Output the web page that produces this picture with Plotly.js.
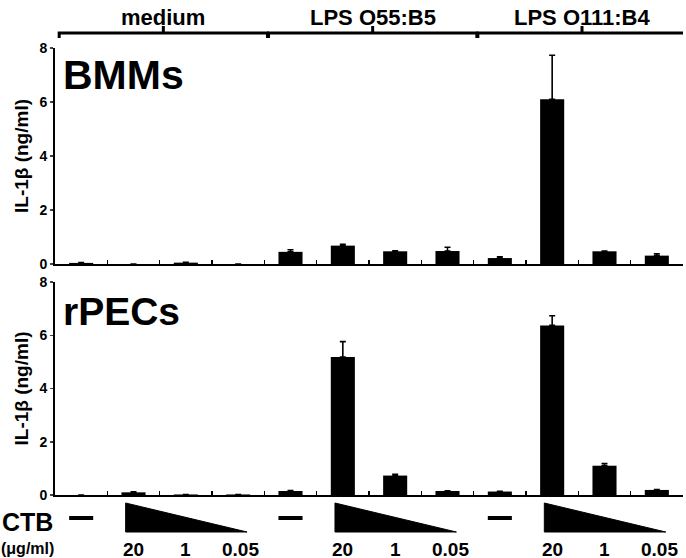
<!DOCTYPE html>
<html>
<head>
<meta charset="utf-8">
<script src="https://cdn.plot.ly/plotly-3.0.1.min.js"></script>
<style>
  body { margin: 0; background: #fff; }
  #graph { width: 686px; height: 558px; }
</style>
</head>
<body>
<div id="graph"></div>
<script>
// 12 wells: 3 stimulation groups x (no CTB, CTB 20, 1, 0.05 ug/ml)
var groups = ['medium', 'LPS O55:B5', 'LPS O111:B4']
var doseLabels = ['20', '1', '0.05']
var wells = [0, 1, 2, 3, 4, 5, 6, 7, 8, 9, 10, 11]

var bmmsMean = [0.04, 0, 0.05, 0, 0.45, 0.68, 0.47, 0.48, 0.22, 6.1, 0.47, 0.31]
var bmmsErr = [0.01, 0, 0.01, 0, 0.08, 0.05, 0.02, 0.14, 0.05, 1.63, 0.01, 0.07]
var pecsMean = [0, 0.1, 0.02, 0.02, 0.15, 5.18, 0.73, 0.15, 0.13, 6.37, 1.1, 0.19]
var pecsErr = [0, 0.02, 0, 0, 0.02, 0.58, 0.05, 0.01, 0.01, 0.36, 0.08, 0.01]

var FONT = 'Liberation Sans, Arial, sans-serif'
var zeros = wells.map(function () { return 0 })

function barTrace (y, err, xa, ya) {
  return {
    type: 'bar',
    x: wells,
    y: y,
    xaxis: xa,
    yaxis: ya,
    width: 0.46,
    marker: { color: '#000', line: { width: 0 } },
    error_y: {
      type: 'data',
      symmetric: false,
      array: err,
      arrayminus: zeros,
      color: '#000',
      thickness: 1.6,
      width: 3
    },
    showlegend: false,
    hoverinfo: 'y'
  }
}

var data = [
  barTrace(bmmsMean, bmmsErr, 'x', 'y'),
  barTrace(pecsMean, pecsErr, 'x2', 'y2')
]

var xbase = {
  range: [-0.5, 11.5],
  showgrid: false,
  zeroline: false,
  showline: true,
  linecolor: '#000',
  linewidth: 2,
  tickmode: 'array',
  tickvals: wells.map(function (i) { return i + 0.5 }),
  ticks: 'inside',
  ticklen: 4,
  tickwidth: 1.5,
  tickcolor: '#000',
  showticklabels: false
}

function ybase (domain, anchor) {
  return {
    domain: domain,
    anchor: anchor,
    range: [0, 8],
    showgrid: false,
    zeroline: false,
    showline: true,
    linecolor: '#000',
    linewidth: 2,
    tickvals: [0, 2, 4, 6, 8],
    ticks: 'outside',
    ticklen: 3,
    tickwidth: 1.5,
    tickfont: { family: FONT, size: 14, weight: 'bold', color: '#000' },
    title: {
      text: 'IL-1β (ng/ml)',
      font: { family: FONT, size: 19, weight: 'bold', color: '#000' },
      standoff: 6
    },
    automargin: false
  }
}

var shapes = []
var annotations = []

// group brackets on top
groups.forEach(function (g, k) {
  var x0 = k * 4 - 0.42
  var x1 = k * 4 + 3.56
  var xm = (x0 + x1) / 2
  shapes.push({
    type: 'path',
    xref: 'x',
    yref: 'paper',
    path: 'M' + x0 + ',1.0224 L' + x0 + ',1.0336 L' + x1 + ',1.0336 L' + x1 + ',1.0224 M' + xm + ',1.0336 L' + xm + ',1.0492',
    line: { color: '#000', width: 3 }
  })
  annotations.push({
    xref: 'x',
    yref: 'paper',
    x: xm,
    y: 1.069,
    yanchor: 'middle',
    text: g,
    showarrow: false,
    font: { family: FONT, size: 22, weight: 'bold', color: '#000' }
  })
  // no-CTB dash
  shapes.push({
    type: 'line',
    xref: 'x2',
    yref: 'paper',
    x0: k * 4 - 0.23,
    x1: k * 4 + 0.23,
    y0: -0.0515,
    y1: -0.0515,
    line: { color: '#000', width: 4 }
  })
  // CTB dose triangle
  var t0 = k * 4 + 0.85
  var t1 = k * 4 + 3.17
  shapes.push({
    type: 'path',
    xref: 'x2',
    yref: 'paper',
    path: 'M' + t0 + ',-0.0179 L' + t0 + ',-0.0828 L' + t1 + ',-0.0828 Z',
    fillcolor: '#000',
    line: { color: '#000', width: 1 }
  })
  doseLabels.forEach(function (d, j) {
    annotations.push({
      xref: 'x2',
      yref: 'paper',
      x: k * 4 + 1 + j + (j === 2 ? 0.05 : 0),
      y: -0.1219,
      yanchor: 'middle',
      height: 16,
      text: d,
      showarrow: false,
      font: { family: FONT, size: 19, weight: 'bold', color: '#000' }
    })
  })
})

annotations.push(
  {
    xref: 'paper', yref: 'paper', x: 0.01, y: 0.94, xanchor: 'left', yanchor: 'middle',
    text: 'BMMs', showarrow: false,
    font: { family: FONT, size: 41, weight: 'bold', color: '#000' }
  },
  {
    xref: 'paper', yref: 'paper', x: 0.01, y: 0.41, xanchor: 'left', yanchor: 'middle',
    text: 'rPECs', showarrow: false,
    font: { family: FONT, size: 39, weight: 'bold', color: '#000' }
  },
  {
    xref: 'paper', yref: 'paper', x: -0.044, y: -0.0604, xanchor: 'center', yanchor: 'middle',
    text: 'CTB', showarrow: false,
    font: { family: FONT, size: 25, weight: 'bold', color: '#000' }
  },
  {
    xref: 'paper', yref: 'paper', x: -0.044, y: -0.1208, xanchor: 'center', yanchor: 'middle',
    height: 17,
    text: '(μg/ml)', showarrow: false,
    font: { family: FONT, size: 16, weight: 'bold', color: '#000' }
  }
)

var layout = {
  width: 686,
  height: 558,
  margin: { l: 55, r: 3, t: 48, b: 63 },
  paper_bgcolor: '#fff',
  plot_bgcolor: '#fff',
  font: { family: FONT, color: '#000' },
  xaxis: Object.assign({}, xbase, { anchor: 'y' }),
  xaxis2: Object.assign({}, xbase, { anchor: 'y2' }),
  yaxis: ybase([0.5168, 1], 'x'),
  yaxis2: ybase([0, 0.4765], 'x2'),
  bargap: 0.5,
  shapes: shapes,
  annotations: annotations
}

Plotly.newPlot('graph', data, layout, { displayModeBar: false, staticPlot: true })
</script>
</body>
</html>
